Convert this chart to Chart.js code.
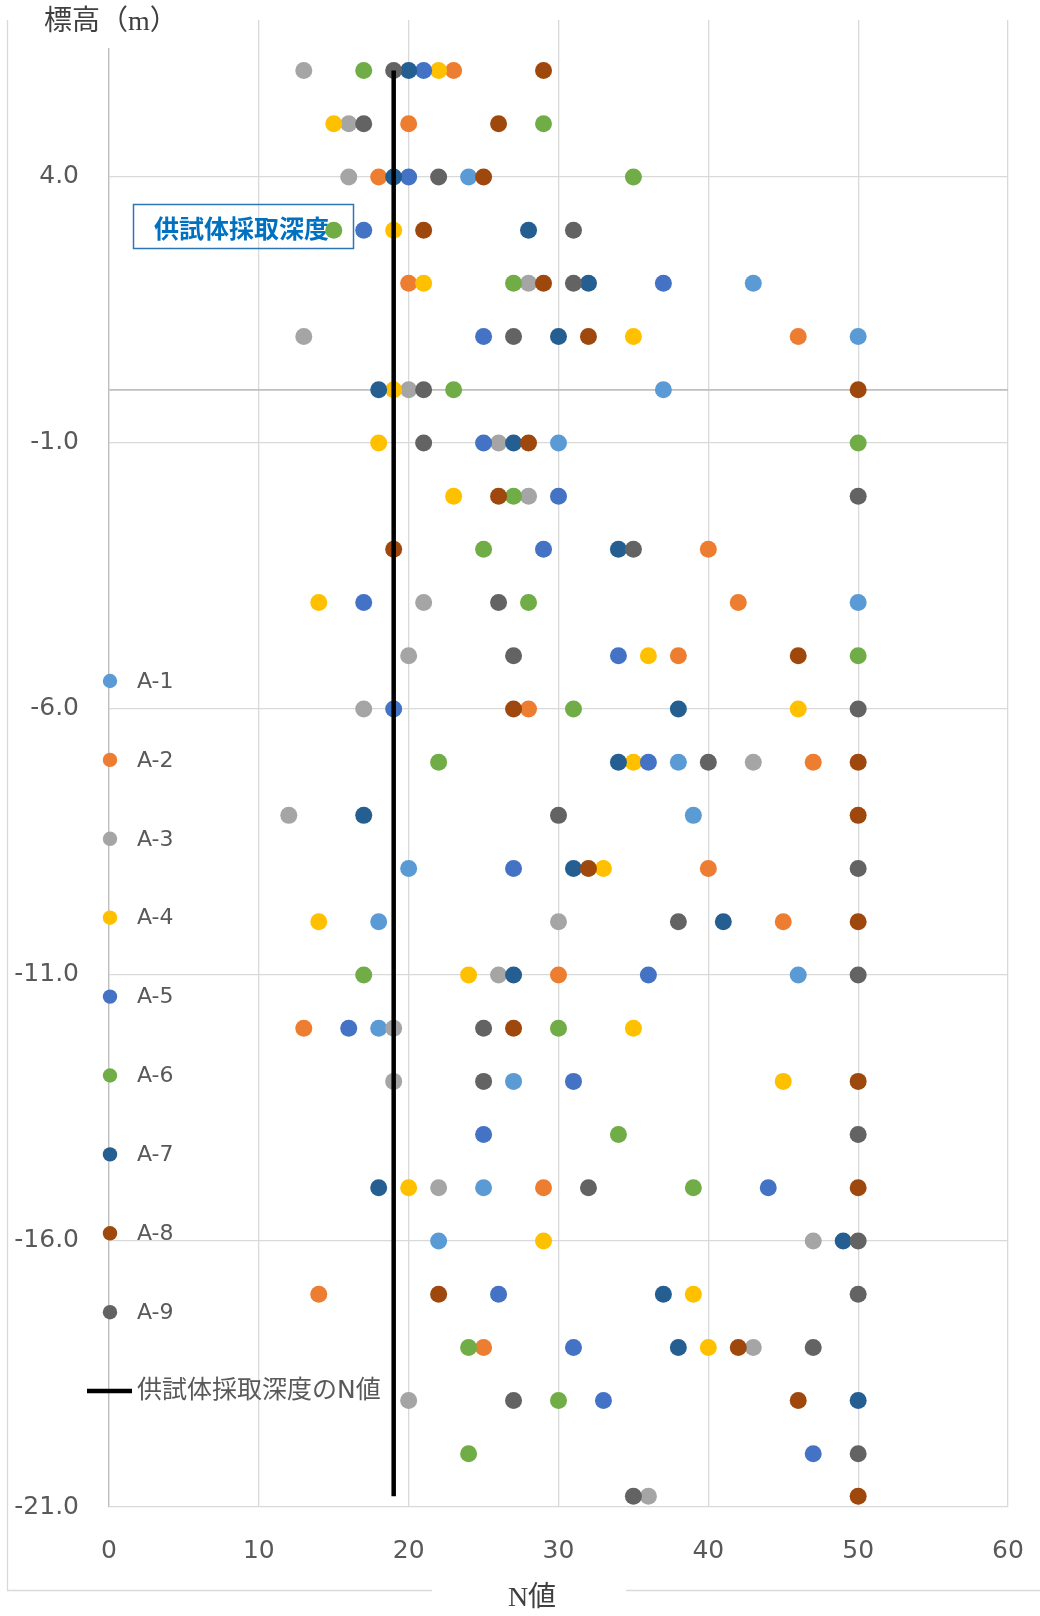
<!DOCTYPE html>
<html lang="ja">
<head>
<meta charset="UTF-8">
<title>N値分布</title>
<script src="https://cdn.jsdelivr.net/npm/chart.js"></script>
<style>
  body { margin: 0; background: #fff; }
  #wrap { width: 1040px; height: 1616px; }
</style>
</head>
<body>
<div id="wrap"><canvas id="nChart" width="1040" height="1616"></canvas></div>
<script>
// 標高（m）: 各行の高さ
var elevations = [6, 5, 4, 3, 2, 1, 0, -1, -2, -3, -4, -5, -6, -7, -8, -9, -10, -11, -12, -13, -14, -15, -16, -17, -18, -19, -20, -20.8];

// 各孔のN値（elevations と同じ並び、null は値なし）
var a1 = [null, null, 24, null, 43, 50, 37, 30, null, null, 50, null, null, 38, 39, 20, 18, 46, 18, 27, null, 25, 22, null, null, null, null, null];
var a2 = [23, 20, 18, null, 20, 46, null, null, null, 40, 42, 38, 28, 47, null, 40, 45, 30, 13, null, null, 29, null, 14, 25, null, null, null];
var a3 = [13, 16, 16, null, 28, 13, 20, 26, 28, null, 21, 20, 17, 43, 12, null, 30, 26, 19, 19, null, 22, 47, null, 43, 20, null, 36];
var a4 = [22, 15, null, 19, 21, 35, 19, 18, 23, null, 14, 36, 46, 35, null, 33, 14, 24, 35, 45, null, 20, 29, 39, 40, null, null, null];
var a5 = [21, null, 20, 17, 37, 25, null, 25, 30, 29, 17, 34, 19, 36, null, 27, null, 36, 16, 31, 25, 44, null, 26, 31, 33, 47, null];
var a6 = [17, 29, 35, 15, 27, null, 23, 50, 27, 25, 28, 50, 31, 22, null, null, null, 17, 30, null, 34, 39, null, null, 24, 30, 24, null];
var a7 = [20, null, 19, 28, 32, 30, 18, 27, null, 34, null, null, 38, 34, 17, 31, 41, 27, null, null, null, 18, 49, 37, 38, 50, null, null];
var a8 = [29, 26, 25, 21, 29, 32, 50, 28, 26, 19, null, 46, 27, 50, 50, 32, 50, null, 27, 50, null, 50, null, 22, 42, 46, null, 50];
var a9 = [19, 17, 22, 31, 31, 27, 21, 21, 50, 35, 26, 27, 50, 40, 30, 50, 38, 50, 25, 25, 50, 32, 50, 50, 47, 27, 50, 35];

var seriesNames = ['A-1', 'A-2', 'A-3', 'A-4', 'A-5', 'A-6', 'A-7', 'A-8', 'A-9'];
var seriesValues = [a1, a2, a3, a4, a5, a6, a7, a8, a9];

// 供試体採取深度のN値（縦線）
var sampleName = '供試体採取深度のN値';
var sampleN = [19, 19];
var sampleElev = [6, -20.8];

// 目盛
var yTickValues = [-21, -16, -11, -6, -1, 4];
var axisCross = 0;

var colors = ['#5B9BD5', '#ED7D31', '#A5A5A5', '#FFC000', '#4472C4', '#70AD47', '#255E91', '#9E480E', '#636363'];
var latinFont = '"DejaVu Sans", "Noto Sans CJK JP", sans-serif';
var titleFont = '"Liberation Serif", "Noto Sans CJK JP", serif';

var datasets = seriesValues.map(function (vals, i) {
    var pts = [];
    vals.forEach(function (v, j) {
        if (v !== null) pts.push({ x: v, y: elevations[j] });
    });
    return {
        label: seriesNames[i],
        data: pts,
        backgroundColor: colors[i],
        borderColor: colors[i],
        borderWidth: 0,
        pointRadius: 8.5,
        pointHoverRadius: 8.5,
        order: 9 - i
    };
});
datasets.push({
    label: sampleName,
    data: sampleN.map(function (v, j) { return { x: v, y: sampleElev[j] }; }),
    showLine: true,
    borderColor: '#000000',
    borderWidth: 4.5,
    pointRadius: 0,
    order: 0
});

// 注記・タイトル・凡例・外枠
var decor = {
    id: 'decor',
    beforeDatasetsDraw: function (chart) {
        var ctx = chart.ctx;
        ctx.save();
        ctx.strokeStyle = '#2E75B6';
        ctx.lineWidth = 1.5;
        ctx.strokeRect(133.5, 204.5, 220, 44);
        ctx.fillStyle = '#0070C0';
        ctx.font = 'bold 25px "Noto Sans CJK JP"';
        ctx.textBaseline = 'middle';
        ctx.fillText('供試体採取深度', 154, 228);
        ctx.restore();
    },
    afterDraw: function (chart) {
        var ctx = chart.ctx;
        ctx.save();

        // 外枠（左・下）
        ctx.strokeStyle = '#d9d9d9';
        ctx.lineWidth = 1.3;
        ctx.beginPath();
        ctx.moveTo(7.5, 20);
        ctx.lineTo(7.5, 1590.5);
        ctx.lineTo(432, 1590.5);
        ctx.moveTo(626, 1590.5);
        ctx.lineTo(1040, 1590.5);
        ctx.stroke();

        // 縦軸タイトル（白い箱つき）
        ctx.fillStyle = '#ffffff';
        ctx.fillRect(38, 0, 136, 48);
        ctx.fillStyle = '#404040';
        ctx.font = '28px ' + titleFont;
        ctx.textBaseline = 'middle';
        ctx.textAlign = 'left';
        ctx.fillText('標高（m）', 44, 23);

        // 横軸タイトル
        ctx.textAlign = 'center';
        ctx.fillText('N値', 532, 1599);

        // 凡例
        ctx.textAlign = 'left';
        ctx.font = '22px ' + latinFont;
        var y0 = 681, dy = 78.9;
        for (var i = 0; i < seriesNames.length; i++) {
            var y = y0 + i * dy;
            ctx.fillStyle = colors[i];
            ctx.beginPath();
            ctx.arc(110, y, 7.2, 0, Math.PI * 2);
            ctx.fill();
            ctx.fillStyle = '#595959';
            ctx.fillText(seriesNames[i], 137, y + 1);
        }
        var yl = y0 + seriesNames.length * dy;
        ctx.strokeStyle = '#000000';
        ctx.lineWidth = 4.5;
        ctx.beginPath();
        ctx.moveTo(87, yl);
        ctx.lineTo(132, yl);
        ctx.stroke();
        ctx.fillStyle = '#595959';
        ctx.font = '25px ' + latinFont;
        ctx.fillText(sampleName, 137, yl);

        ctx.restore();
    }
};

var ctx = document.getElementById('nChart').getContext('2d');
var myChart = new Chart(ctx, {
    type: 'scatter',
    data: { datasets: datasets },
    options: {
        responsive: false,
        animation: false,
        layout: { padding: { top: 20, right: 32, left: 0, bottom: 0 } },
        plugins: {
            legend: { display: false },
            tooltip: { enabled: false }
        },
        scales: {
            x: {
                type: 'linear',
                min: 0,
                max: 60,
                ticks: {
                    stepSize: 10,
                    color: '#595959',
                    font: { size: 25, family: latinFont },
                    padding: 29
                },
                grid: { color: '#d9d9d9', lineWidth: 1.3, drawTicks: false },
                border: { display: false },
                afterFit: function (s) {
                    s.height = 109;
                    s.paddingLeft = 0;
                    s.paddingRight = 0;
                }
            },
            y: {
                type: 'linear',
                min: -21,
                max: 6.95,
                afterBuildTicks: function (s) {
                    s.ticks = yTickValues.concat([axisCross]).sort(function (a, b) { return a - b; })
                        .map(function (v) { return { value: v }; });
                },
                ticks: {
                    autoSkip: false,
                    color: '#595959',
                    font: { size: 25, family: latinFont },
                    padding: 30,
                    callback: function (v) { return v === axisCross ? '' : v.toFixed(1); }
                },
                grid: {
                    color: function (c) { return c.tick && c.tick.value === axisCross ? '#bfbfbf' : '#d9d9d9'; },
                    lineWidth: function (c) { return c.tick && c.tick.value === axisCross ? 1.8 : 1.3; },
                    drawTicks: false
                },
                border: { display: true, color: '#bfbfbf', width: 1.3 },
                afterFit: function (s) {
                    s.width = 109;
                    s.paddingTop = 0;
                    s.paddingBottom = 0;
                }
            }
        }
    },
    plugins: [decor]
});
</script>
</body>
</html>
